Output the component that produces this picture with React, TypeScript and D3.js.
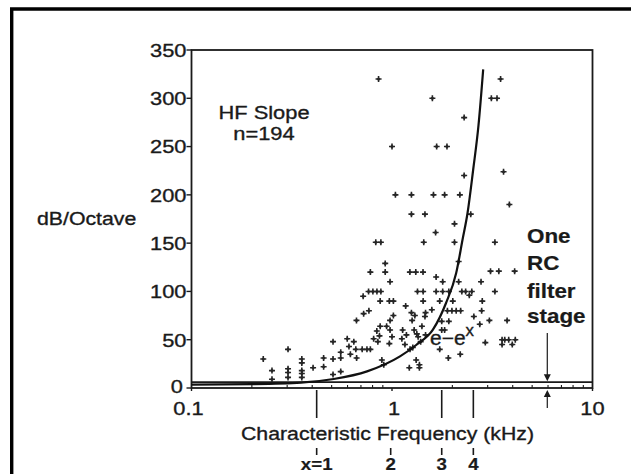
import React from "react";
import * as d3 from "d3";

const W = 631;
const H = 474;

// Axis ticks
const yTickValues = [0, 50, 100, 150, 200, 250, 300, 350];
const xMajorTicks = [0.1, 1, 10];
const xMajorLabels = ["0.1", "1", "10"];
const xMinorTicks = [0.2, 0.3, 0.4, 0.5, 0.6, 0.7, 0.8, 0.9, 2, 3, 4, 5, 6, 7, 8, 9];

// Cochlear position marks (x = 1..4) below the frequency axis
const positionFreqs = [0.421, 0.985, 1.77, 2.545];
const positionLabels = ["x=1", "2", "3", "4"];
const positionLongTick = [true, false, true, true];

// One RC filter stage: 6 dB/octave
const rcSlope = 6;
const rcArrowFreq = 5.95;

// e^-e^x fit curve (frequency kHz, dB/octave)
const curveFreqs = [0.1, 0.2, 0.352, 0.512, 0.751, 1.096, 1.325, 1.6, 1.86, 2.09, 2.25, 2.38, 2.54, 2.7, 2.85];
const curveValues = [3.5, 4, 5.5, 9.3, 17.2, 32.7, 44.8, 60.4, 88, 119, 154, 181, 226, 272, 330];

// HF slope data points (characteristic frequency kHz, dB/octave)
const scatterFreqs = [
  0.228, 0.252, 0.252, 0.303, 0.303, 0.303, 0.303, 0.355, 0.355, 0.355, 0.355, 0.355,
  0.404, 0.456, 0.456, 0.508, 0.508, 0.508, 0.555, 0.555, 0.555,
  0.925, 0.78, 0.925, 0.978, 1.228, 1.314, 1.428, 1.66, 1.79,
  0.764, 0.803, 0.841, 0.88, 0.718, 0.873, 0.97, 1.016,
  1.34, 1.43, 1.66, 1.79, 1.43, 1.17,
  0.767, 0.722, 0.665, 1.016, 0.978, 0.94,
  1.25, 1.3, 1.26, 1.47, 1.41,
  0.873, 0.84, 0.866, 0.81, 0.85,
  0.978, 1.0, 0.97,
  1.13, 1.18, 1.12, 1.16,
  1.23, 1.27, 1.35, 1.39,
  0.598, 0.645, 0.61, 0.66, 0.62, 0.666,
  0.71, 0.75, 0.78,
  0.89, 0.91, 1.22, 1.32, 1.37, 1.37, 1.73,
  1.83, 2.18, 3.85, 2.47, 2.05, 2.05, 3.26, 2.15, 3.1, 3.41, 4.09,
  2.15, 2.78, 1.92, 2.23, 2.33, 2.5, 3.26, 2.43, 1.73, 2.01, 2.82,
  1.89, 1.99, 2.09, 2.2, 2.8, 2.56, 3.06, 2.74, 1.77, 1.92, 3.75, 1.77, 1.83,
  2.92, 3.54, 3.65, 3.82, 4.12, 3.54, 3.98, 1.91, 2.19,
  0.857, 1.59, 2.29, 3.48, 3.13, 3.34, 1.0, 1.67, 1.88, 3.6, 2.29,
  1.04, 1.25, 1.61, 1.25, 1.46, 1.65, 0.83, 0.88, 1.44,
  1.46, 1.58, 1.29, 1.47, 1.33,
];
const scatterValues = [
  30, 18, 9, 40, 20, 16, 11, 30, 26, 18, 15, 11,
  21, 31, 22, 48, 30, 14, 37, 31, 17,
  129, 120, 120, 110, 120, 120, 120, 115, 110,
  100, 100, 100, 100, 95, 90, 90, 90,
  100, 100, 100, 100, 90, 85,
  80, 77, 70, 75, 70, 64,
  78, 75, 70, 78, 64,
  64, 59, 54, 51, 48,
  60, 53, 46,
  60, 55, 51, 45,
  40, 42, 53, 48,
  51, 48, 43, 40, 35, 31,
  40, 40, 40,
  29, 24, 21, 29, 24, 21, 40,
  200, 200, 190, 180, 170, 151, 151, 131, 121, 121, 121,
  110, 110, 100, 100, 100, 100, 100, 96, 90, 90, 90,
  80, 80, 80, 80, 80, 74, 70, 66, 69, 69, 70, 60, 60,
  47, 50, 50, 50, 50, 45, 45, 31, 35,
  320, 300, 280, 320, 300, 300, 250, 250, 250, 224, 220,
  200, 200, 200, 180, 180, 161, 151, 151, 151,
  74, 81, 60, 55, 56,
];

const INK = "#1a1a1a";
const FONT = "'Liberation Sans', Arial, Helvetica, sans-serif";

function T({ x, y, anchor = "start", size = 19, weight = "normal", sx = 1.15, children }: any) {
  return (
    <text
      transform={`translate(${x},${y}) scale(${sx},1)`}
      textAnchor={anchor}
      fontSize={size}
      fontWeight={weight}
      fontFamily={FONT}
      fill={INK}
      stroke={INK}
      strokeWidth={weight === "bold" ? 0.2 : 0.35}
    >
      {children}
    </text>
  );
}

export default function App() {
  const x = d3.scaleLog().domain([0.1, 10]).range([191.5, 592.5]);
  const y = d3.scaleLinear().domain([0, 350]).range([388, 50]);

  const curveData = curveFreqs.map((f, i) => [f, curveValues[i]] as [number, number]);
  const line = d3
    .line<[number, number]>()
    .x((d) => x(d[0]))
    .y((d) => y(d[1]))
    .curve(d3.curveMonotoneX);

  const x0 = x(0.1);
  const x1 = x(10);
  const yb = y(0);
  const yt = y(350);
  const ax = x(rcArrowFreq);
  const rcY = y(rcSlope);

  return (
    <svg
      width={W}
      height={H}
      style={{ position: "absolute", left: 0, top: 0, display: "block", background: "#fff" }}
    >
      <rect x={0} y={0} width={W} height={H} fill="#fff" />
      {/* outer scan border */}
      <path d={`M11.7,${H}V9H${W}`} fill="none" stroke="#000" strokeWidth={3.4} />

      {/* plot frame */}
      <rect x={x0} y={yt} width={x1 - x0} height={yb - yt} fill="none" stroke={INK} strokeWidth={1.8} />

      {/* y ticks */}
      {yTickValues.map((v) => (
        <g key={"yt" + v}>
          <line x1={x0 - 5} x2={x0} y1={y(v)} y2={y(v)} stroke={INK} strokeWidth={1.4} />
          <T x={v === 0 ? 183 : 186.5} y={v === 0 ? y(v) + 4.5 : y(v) + 6.8} anchor="end">
            {v}
          </T>
        </g>
      ))}

      {/* x minor ticks (inside) */}
      {xMinorTicks.map((f) => (
        <line key={"xm" + f} x1={x(f)} x2={x(f)} y1={yb} y2={yb - 3} stroke={INK} strokeWidth={1.1} />
      ))}
      {xMajorTicks.map((f, i) => (
        <g key={"xM" + f}>
          <line x1={x(f)} x2={x(f)} y1={yb} y2={yb + 3} stroke={INK} strokeWidth={1.4} />
          <T x={x(f) + (i === 0 ? -3 : i === 1 ? 2 : 0)} y={415} anchor="middle">
            {xMajorLabels[i]}
          </T>
        </g>
      ))}

      {/* RC filter line */}
      <line x1={x0} x2={x1} y1={rcY} y2={rcY} stroke={INK} strokeWidth={1.8} />

      {/* scatter */}
      {scatterFreqs.map((f, i) => {
        const cx = x(f);
        const cy = y(scatterValues[i]);
        return (
          <g key={"p" + i} transform={`translate(${cx},${cy})`}>
            <path d="M-3,0H3M0,-3V3" stroke="#262626" strokeWidth={1.6} />
            <circle r={1.5} fill="#262626" />
          </g>
        );
      })}

      {/* fit curve */}
      <path d={line(curveData) || ""} fill="none" stroke="#111" strokeWidth={2.2} />

      {/* texts */}
      <T x={264} y={119} anchor="middle">HF Slope</T>
      <T x={264} y={140} anchor="middle">n=194</T>
      <T x={37} y={225} sx={1.12}>dB/Octave</T>
      <T x={430} y={345} size={20} sx={1.05}>
        e−e
        <tspan dy={-9} fontSize={16}>x</tspan>
      </T>
      <T x={527} y={243} size={19.5} weight="bold" sx={1.15}>One</T>
      <T x={527} y={270} size={19.5} weight="bold" sx={1.15}>RC</T>
      <T x={527} y={298} size={19.5} weight="bold" sx={1.15}>filter</T>
      <T x={527} y={323} size={19.5} weight="bold" sx={1.15}>stage</T>

      {/* arrows to RC line */}
      <line x1={ax} x2={ax} y1={333} y2={rcY - 6} stroke={INK} strokeWidth={1.2} />
      <path d={`M${ax - 3.5},${rcY - 8}L${ax + 3.5},${rcY - 8}L${ax},${rcY - 1}Z`} fill={INK} />
      <line x1={ax} x2={ax} y1={408} y2={yb + 7} stroke={INK} strokeWidth={1.2} />
      <path d={`M${ax - 3.5},${yb + 9}L${ax + 3.5},${yb + 9}L${ax},${yb + 2}Z`} fill={INK} />

      <T x={387.5} y={440} anchor="middle" sx={1.12}>Characteristic Frequency (kHz)</T>

      {/* cochlear position marks */}
      {positionFreqs.map((f, i) => (
        <g key={"pos" + i}>
          {positionLongTick[i] && (
            <line x1={x(f)} x2={x(f)} y1={390} y2={418} stroke={INK} strokeWidth={1.6} />
          )}
          <line x1={x(f)} x2={x(f)} y1={448} y2={455} stroke={INK} strokeWidth={1.6} />
          <T x={x(f)} y={470} anchor="middle" size={17} weight="bold" sx={1.1}>
            {positionLabels[i]}
          </T>
        </g>
      ))}
    </svg>
  );
}
